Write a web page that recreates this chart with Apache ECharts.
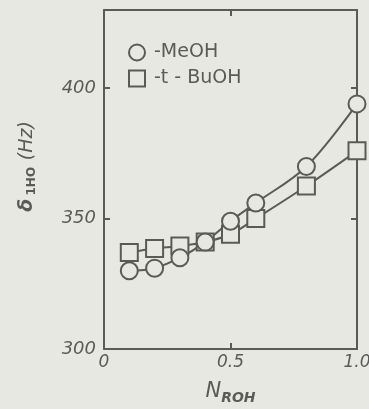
<!DOCTYPE html>
<html>
<head>
<meta charset="utf-8">
<script src="https://cdn.jsdelivr.net/npm/echarts@6/dist/echarts.min.js"></script>
<style>
  html, body { margin: 0; padding: 0; background: #e8e8e3; }
  #chart { width: 369px; height: 409px; }
</style>
</head>
<body>
<div id="chart"></div>
<script>
var xValues = [0.1, 0.2, 0.3, 0.4, 0.5, 0.6, 0.8, 1.0];
var meohValues = [330, 331, 335, 341, 349, 356, 370, 394];
var buohValues = [337, 338.5, 339.5, 341, 344, 350, 362.5, 376];
var seriesNames = ['-MeOH', '-t - BuOH'];
var yLabels = [300, 350, 400];

var bg = '#e8e8e3';
var ink = '#5a5a58';

function pairs(xs, ys) {
  return xs.map(function (x, i) { return [x, ys[i]]; });
}

// onZero off, otherwise the right y axis snaps onto x = 0 (the left edge)
var frameLine = { show: true, onZero: false, lineStyle: { color: ink, width: 2 } };
var tick = { show: true, inside: true, length: 6, lineStyle: { color: ink, width: 2 } };

var myChart = echarts.init(document.getElementById('chart'));
var option = {
  backgroundColor: bg,
  animation: false,
  grid: { left: 104, right: 12, top: 10, bottom: 60, outerBoundsMode: 'none' },
  legend: {
    orient: 'vertical',
    left: 123, top: 38,
    itemGap: 7,
    itemWidth: 16, itemHeight: 16,
    textStyle: { color: ink, fontSize: 19, fontFamily: 'DejaVu Sans', padding: [0, 0, 0, 4] },
    data: [
      { name: seriesNames[0], icon: 'circle' },
      { name: seriesNames[1], icon: 'rect' }
    ],
    itemStyle: { color: bg, borderColor: ink, borderWidth: 2 },
    lineStyle: { width: 0 }
  },
  xAxis: [{
    type: 'value', min: 0, max: 1, interval: 0.5,
    name: '{n|N}{s|ROH}', nameLocation: 'middle', nameGap: 30,
    nameTextStyle: {
      rich: {
        n: { fontSize: 21, fontStyle: 'italic', color: ink, fontFamily: 'DejaVu Sans' },
        s: { fontSize: 14, fontStyle: 'italic', fontWeight: 'bold', color: ink, fontFamily: 'DejaVu Sans', padding: [12, 0, 0, 0] }
      }
    },
    axisLine: frameLine,
    axisTick: tick,
    axisLabel: {
      color: ink, fontSize: 17, fontStyle: 'italic', fontFamily: 'DejaVu Sans', margin: 5,
      formatter: function (v) { return v === 0 ? '0' : v.toFixed(1); }
    },
    splitLine: { show: false }
  }, {
    type: 'value', min: 0, max: 1, interval: 0.5, position: 'top',
    axisLine: frameLine,
    axisTick: tick,
    axisLabel: { show: false },
    splitLine: { show: false }
  }],
  yAxis: [{
    type: 'value', min: 300, max: 430, interval: 50,
    name: '{d|δ} {s|1HO}  {h|(Hz)}', nameLocation: 'middle', nameGap: 66, nameRotate: 90,
    nameTextStyle: {
      padding: [0, 0, 0, 26],
      rich: {
        d: { fontSize: 19, fontWeight: 'bold', fontStyle: 'italic', color: ink, fontFamily: 'DejaVu Sans' },
        s: { fontSize: 12, fontWeight: 'bold', color: ink, fontFamily: 'DejaVu Sans', padding: [9, 0, 0, 0] },
        h: { fontSize: 19, fontStyle: 'italic', color: ink, fontFamily: 'DejaVu Sans' }
      }
    },
    axisLine: frameLine,
    axisTick: tick,
    axisLabel: {
      color: ink, fontSize: 18, fontStyle: 'italic', fontFamily: 'DejaVu Sans', margin: 8,
      formatter: function (v) { return yLabels.indexOf(v) >= 0 ? String(v) : ''; }
    },
    splitLine: { show: false }
  }, {
    type: 'value', min: 300, max: 430, interval: 50, position: 'right',
    axisLine: frameLine,
    axisTick: tick,
    axisLabel: { show: false },
    splitLine: { show: false }
  }],
  series: [{
    name: seriesNames[1], type: 'line', smooth: 0.35, clip: false,
    symbol: 'rect', symbolSize: 17,
    lineStyle: { color: ink, width: 2 },
    itemStyle: { color: bg, borderColor: ink, borderWidth: 2 },
    data: pairs(xValues, buohValues)
  }, {
    name: seriesNames[0], type: 'line', smooth: 0.35, clip: false,
    symbol: 'circle', symbolSize: 17,
    lineStyle: { color: ink, width: 2 },
    itemStyle: { color: bg, borderColor: ink, borderWidth: 2 },
    data: pairs(xValues, meohValues)
  }]
};
myChart.setOption(option);
</script>
</body>
</html>
